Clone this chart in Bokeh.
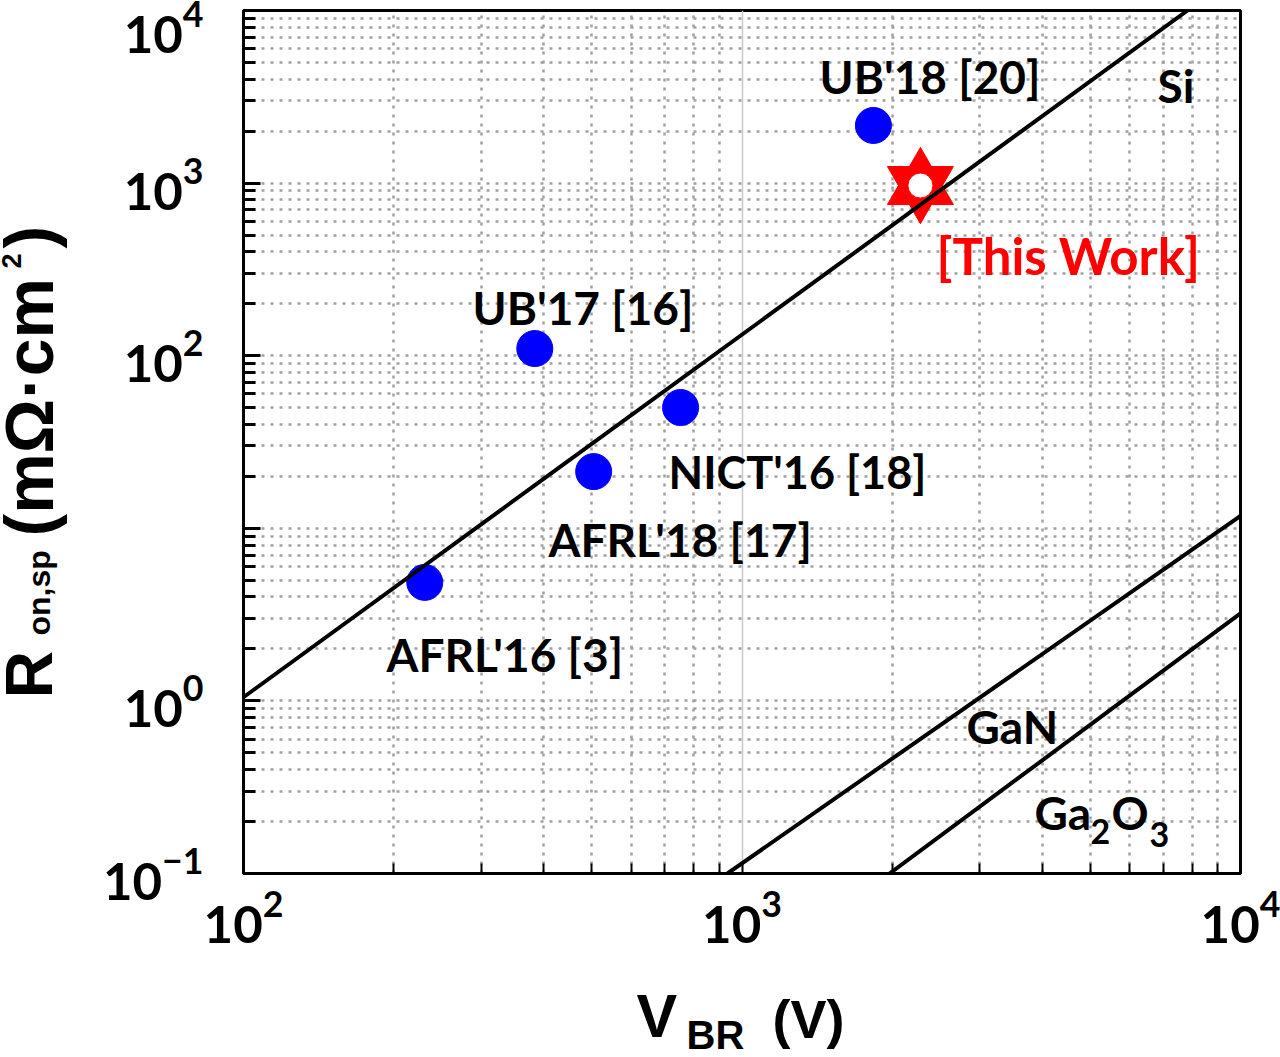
import math
from bokeh.plotting import figure
from bokeh.layouts import row, column
from bokeh.models import FixedTicker, Label
from bokeh.embed import file_html
from bokeh.resources import INLINE

# ---------------- data ----------------
device_names = ["AFRL'16 [3]", "AFRL'18 [17]", "UB'17 [16]", "NICT'16 [18]", "UB'18 [20]"]
device_vbr = [231, 504, 384, 753, 1835]          # V
device_ron = [4.86, 21.3, 110, 50.1, 2157]       # mOhm cm^2

this_work_vbr = [2280]
this_work_ron = [968]

si_vbr = [100, 7830]
si_ron = [1.05, 10000]
gan_vbr = [935, 10000]
gan_ron = [0.1, 11.8]
ga2o3_vbr = [1977, 10000]
ga2o3_ron = [0.1, 3.21]

x_major_ticks = [100, 1000, 10000]
y_major_ticks = [0.1, 1, 10, 100, 1000, 10000]
x_minor_ticks = [m * 10.0 ** k for k in (2, 3) for m in range(2, 10)]
y_minor_ticks = [m * 10.0 ** k for k in (-1, 0, 1, 2, 3) for m in range(2, 10)]
hidden_y_labels = {10: ""}

# ---------------- layout (page pixels) ----------------
W, H = 1280, 1053
WY = 80            # strip holding the y-axis title
HM = 985           # height of the main figure
FL, FR, FT, FB = 243, 1240, 10, 873   # plot frame on the page
BASE_SHIFT = 0.35  # baseline correction (em)


def px_x(px):
    return 10 ** (2 + 2 * (px - FL) / (FR - FL))


def py_y(py):
    return 10 ** (4 - 5 * (py - FT) / (FB - FT))


p = figure(width=W - WY, height=HM, x_axis_type="log", y_axis_type="log",
           x_range=(100, 10000), y_range=(0.1, 10000),
           output_backend="svg", toolbar_location=None,
           min_border_left=FL - WY, min_border_right=W - FR,
           min_border_top=FT, min_border_bottom=HM - FB)
p.background_fill_color = "white"
p.border_fill_color = "white"
p.outline_line_color = "black"
p.outline_line_width = 3

xt = FixedTicker(ticks=x_major_ticks, minor_ticks=x_minor_ticks)
yt = FixedTicker(ticks=y_major_ticks, minor_ticks=y_minor_ticks)
p.xaxis.ticker = xt
p.yaxis.ticker = yt
p.xgrid.ticker = xt
p.ygrid.ticker = yt

for ax in (p.xaxis, p.yaxis):
    ax.axis_line_color = "black"
    ax.axis_line_width = 3
    ax.major_tick_out = 0
    ax.minor_tick_out = 0
    ax.major_tick_line_color = "black"
    ax.minor_tick_line_color = "black"
    ax.major_label_text_font = "Lato"
    ax.major_label_text_font_style = "bold"
    ax.major_label_text_font_size = "51px"
    ax.major_label_text_color = "black"

p.xaxis.major_tick_in = 10
p.xaxis.minor_tick_in = 10
p.xaxis.major_tick_line_width = 2
p.xaxis.minor_tick_line_width = 2
p.xaxis.major_label_standoff = 16

p.yaxis.major_tick_in = 17
p.yaxis.minor_tick_in = 12
p.yaxis.major_tick_line_width = 3
p.yaxis.minor_tick_line_width = 3
p.yaxis.major_label_standoff = 40
p.yaxis.major_label_overrides = hidden_y_labels

# grids
p.xgrid.grid_line_color = "#c8c8c8"
p.xgrid.grid_line_width = 1.5
p.xgrid.minor_grid_line_color = "#a0a0a0"
p.xgrid.minor_grid_line_width = 2.5
p.xgrid.minor_grid_line_dash = "3 6"
p.ygrid.grid_line_color = "#a0a0a0"
p.ygrid.grid_line_width = 2.5
p.ygrid.grid_line_dash = "3 6"
p.ygrid.minor_grid_line_color = "#a0a0a0"
p.ygrid.minor_grid_line_width = 2.5
p.ygrid.minor_grid_line_dash = "3 6"

# markers
p.scatter(device_vbr, device_ron, size=36, color="#0000ff")
p.scatter(this_work_vbr, this_work_ron, marker="triangle", size=66, color="#ff0000")
p.scatter(this_work_vbr, this_work_ron, marker="inverted_triangle", size=66, color="#ff0000")
p.scatter(this_work_vbr, this_work_ron, marker="circle", size=25, fill_color="white",
          line_color="#ff0000", line_width=1)

# limit lines
for xs, ys in ((si_vbr, si_ron), (gan_vbr, gan_ron), (ga2o3_vbr, ga2o3_ron)):
    p.line(xs, ys, line_color="black", line_width=4)


def add_text(text, px, py, size, color="black", font="Lato"):
    p.add_layout(Label(x=px_x(px), y=py_y(py - BASE_SHIFT * size), text=text,
                       text_font=font, text_font_style="bold",
                       text_font_size=f"{size}px", text_color=color,
                       text_align="left", text_baseline="alphabetic"))


# annotations (text, left px, baseline px, size)
ann = [
    ("UB'18 [20]", 819, 92, 46),
    ("Si", 1157, 101, 46),
    ("UB'17 [16]", 472, 323, 46),
    ("NICT'16 [18]", 668, 487, 45),
    ("AFRL'18 [17]", 548, 555, 46),
    ("AFRL'16 [3]", 386, 670, 46),
    ("GaN", 966, 742, 46),
]
for t, x, y, s in ann:
    add_text(t, x, y, s)
add_text("[This Work]", 936, 273, 51, color="#ff0000")

# Ga2O3
add_text("Ga", 1034, 828, 46)
add_text("2", 1090, 843, 34)
add_text("O", 1111, 828, 46)
add_text("3", 1149, 846, 34)


def strip(width, height):
    f = figure(width=width, height=height, output_backend="svg", toolbar_location=None,
               x_axis_location=None, y_axis_location=None,
               min_border=0, x_range=(0, 1), y_range=(0, 1))
    f.outline_line_color = None
    f.grid.visible = False
    f.background_fill_color = "white"
    f.border_fill_color = "white"
    return f


LS = "Liberation Sans"

# x-axis title strip (its frame is aligned with the main frame: page x FL..FR)
xs_fig = strip(W - WY, H - HM)


def x_title(text, px, py, size):
    xs_fig.add_layout(Label(x=px - FL, y=H - (py - BASE_SHIFT * size),
                            x_units="screen", y_units="screen", text=text,
                            text_font=LS, text_font_style="bold",
                            text_font_size=f"{size}px", text_color="black",
                            text_align="left", text_baseline="alphabetic"))


x_title("V", 636, 1037, 61)
x_title("BR", 686, 1048, 40)
x_title("(V)", 772, 1037, 54)

# y-axis title strip (page x from 0 to WY)
ys_fig = strip(WY, H)


def y_title(text, px, py, size):
    ys_fig.add_layout(Label(x=px - BASE_SHIFT * size, y=H - py,
                            x_units="screen", y_units="screen", text=text,
                            text_font=LS, text_font_style="bold",
                            text_font_size=f"{size}px", text_color="black",
                            text_align="left", text_baseline="alphabetic",
                            angle=math.pi / 2))


y_title("R", 52, 698, 66)
y_title("on,sp", 50, 635, 32)
y_title("(mΩ·cm", 52, 536, 68)
y_title("2", 20, 268, 27)
y_title(")", 52, 248, 68)

layout = row(ys_fig, column(p, xs_fig, spacing=0), spacing=0)

open("out.html", "w").write(file_html(layout, INLINE))
